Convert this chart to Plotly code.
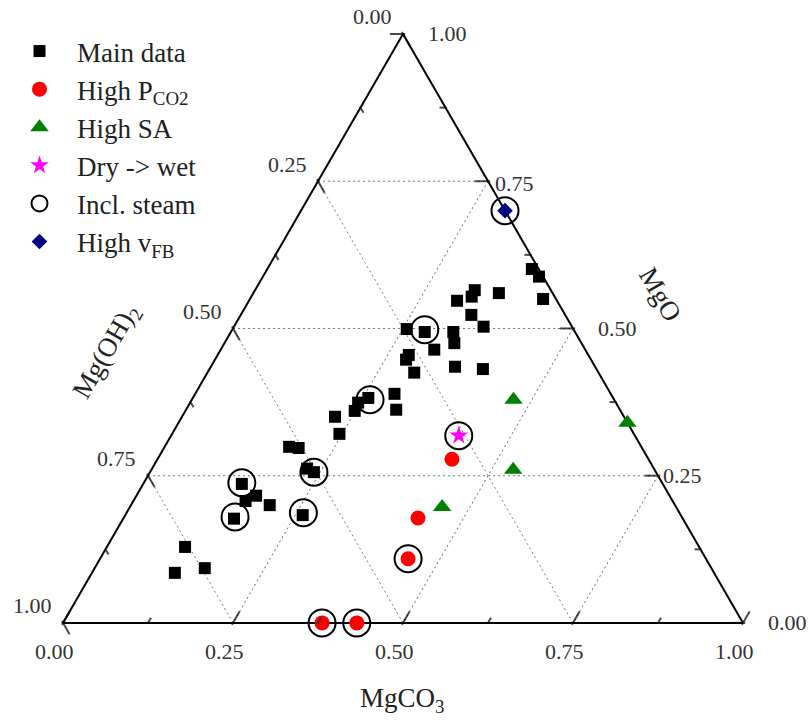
import math
import plotly.graph_objects as go

# ---------------- data: fractions (MgO, Mg(OH)2, MgCO3) ----------------
main_mgo = [0.085, 0.129, 0.093, 0.236, 0.177, 0.207, 0.216, 0.200, 0.299, 0.297,
            0.262, 0.256, 0.183, 0.350, 0.321, 0.360, 0.374, 0.382, 0.389, 0.362,
            0.499, 0.494, 0.464, 0.455, 0.447, 0.425, 0.494, 0.475, 0.435, 0.547,
            0.565, 0.554, 0.560, 0.601, 0.588, 0.550, 0.523, 0.503, 0.431]
main_mgoh2 = [0.793, 0.756, 0.745, 0.619, 0.660, 0.628, 0.608, 0.596, 0.518, 0.505,
              0.510, 0.503, 0.556, 0.425, 0.433, 0.391, 0.379, 0.360, 0.318, 0.329,
              0.245, 0.221, 0.222, 0.264, 0.272, 0.271, 0.179, 0.187, 0.206, 0.147,
              0.112, 0.122, 0.079, 0.010, 0.006, 0.019, 0.138, 0.130, 0.167]
main_mgco3 = [0.122, 0.115, 0.162, 0.145, 0.163, 0.165, 0.176, 0.204, 0.183, 0.198,
              0.228, 0.241, 0.261, 0.225, 0.246, 0.249, 0.247, 0.258, 0.293, 0.309,
              0.256, 0.285, 0.314, 0.281, 0.281, 0.304, 0.327, 0.338, 0.359, 0.306,
              0.323, 0.324, 0.361, 0.389, 0.406, 0.431, 0.339, 0.367, 0.402]

pco2_mgo = [0.278, 0.178, 0.109, 0.000, 0.000]
pco2_mgoh2 = [0.289, 0.389, 0.438, 0.619, 0.568]
pco2_mgco3 = [0.433, 0.433, 0.453, 0.381, 0.432]

sa_mgo = [0.379, 0.260, 0.197, 0.340]
sa_mgoh2 = [0.148, 0.208, 0.344, 0.000]
sa_mgco3 = [0.473, 0.532, 0.459, 0.660]

dry_mgo = [0.318]
dry_mgoh2 = [0.259]
dry_mgco3 = [0.423]

steam_mgo = [0.238, 0.180, 0.256, 0.187, 0.379, 0.498, 0.318, 0.700, 0.109, 0.000, 0.000]
steam_mgoh2 = [0.618, 0.657, 0.503, 0.553, 0.359, 0.219, 0.259, 0.000, 0.438, 0.619, 0.568]
steam_mgco3 = [0.144, 0.163, 0.241, 0.260, 0.262, 0.283, 0.423, 0.300, 0.453, 0.381, 0.432]

vfb_mgo = [0.700]
vfb_mgoh2 = [0.000]
vfb_mgco3 = [0.300]

tick_values = [0.0, 0.125, 0.25, 0.375, 0.5, 0.625, 0.75, 0.875, 1.0]
major_values = [0.0, 0.25, 0.5, 0.75, 1.0]
major_labels = ["0.00", "0.25", "0.50", "0.75", "1.00"]

# ---------------- geometry / style ----------------
FIG_W, FIG_H = 812, 721
TRI_LEFT, TRI_TOP = 63, 34          # triangle box, px
SIDE = 680.0
TRI_H = SIDE * math.sqrt(3) / 2
SERIF = "Liberation Serif, Times New Roman, serif"
MAJOR_LEN, MINOR_LEN = 11, 5
TXT = "#222222"


def tern_px(a, b, c):
    """pixel position of a ternary point (used only for axis decorations)."""
    s = a + b + c
    a, c = a / s, c / s
    return TRI_LEFT + SIDE * (c + a / 2), TRI_TOP + TRI_H * (1 - a)


def paper(x, y):
    return x / FIG_W, 1 - y / FIG_H


fig = go.Figure()

# ---- data traces ----
common = dict(mode="markers", cliponaxis=False)
fig.add_trace(go.Scatterternary(
    a=main_mgo, b=main_mgoh2, c=main_mgco3, name="Main data",
    marker=dict(symbol="square", size=12, color="black"), **common))
fig.add_trace(go.Scatterternary(
    a=pco2_mgo, b=pco2_mgoh2, c=pco2_mgco3, name="High P<sub>CO2</sub>",
    marker=dict(symbol="circle", size=15, color="#ff0000"), **common))
fig.add_trace(go.Scatterternary(
    a=sa_mgo, b=sa_mgoh2, c=sa_mgco3, name="High SA",
    marker=dict(symbol="triangle-up", size=16, color="#008000"), **common))
fig.add_trace(go.Scatterternary(
    a=dry_mgo, b=dry_mgoh2, c=dry_mgco3, name="Dry -> wet",
    marker=dict(symbol="star", size=14, color="#ff00ff"), **common))
fig.add_trace(go.Scatterternary(
    a=steam_mgo, b=steam_mgoh2, c=steam_mgco3, name="Incl. steam",
    marker=dict(symbol="circle-open", size=27, color="black", line=dict(width=2, color="black")),
    **common))
fig.add_trace(go.Scatterternary(
    a=vfb_mgo, b=vfb_mgoh2, c=vfb_mgco3, name="High v<sub>FB</sub>",
    marker=dict(symbol="diamond", size=12, color="#000080"), **common))

# ---- tick marks: short grid-line extensions, anchored on the edges ----
for edge in ("left", "bottom", "right"):
    A, B, C, S, SO = [], [], [], [], []
    for v in tick_values:
        is_major = any(abs(v - m) < 1e-9 for m in major_values)
        ln = MAJOR_LEN if is_major else MINOR_LEN
        if edge == "left":
            a, b, c = 1 - v, v, 0.0
        elif edge == "bottom":
            a, b, c = 0.0, 1 - v, v
        else:
            a, b, c = v, 0.0, 1 - v
        A.append(a); B.append(b); C.append(c); S.append(ln); SO.append(ln / 2)
    ang = {"left": -30, "bottom": -150, "right": 90}[edge]
    fig.add_trace(go.Scatterternary(
        a=A, b=B, c=C, mode="markers", showlegend=False, hoverinfo="skip", cliponaxis=False,
        marker=dict(symbol="line-ns", size=S, angle=ang, standoff=SO, color="black",
                    line=dict(width=2, color="black"))))

# ---- tick labels and axis titles (annotations) ----
annotations = []
left_off = (-31, -17)
bottom_off = (-9, 29)
right_off = {0.0: (44, 0), 0.25: (24, 0), 0.5: (44, 0), 0.75: (26, 2), 1.0: (44, 0)}
for v, lab in zip(major_values, major_labels):
    for edge in ("left", "bottom", "right"):
        if edge == "left":
            x, y = tern_px(1 - v, v, 0.0)
            dx, dy = left_off
        elif edge == "bottom":
            x, y = tern_px(0.0, 1 - v, v)
            dx, dy = bottom_off
        else:
            x, y = tern_px(v, 0.0, 1 - v)
            dx, dy = right_off[v]
        px_, py_ = paper(x + dx, y + dy)
        annotations.append(dict(
            text=lab, x=px_, y=py_, xref="paper", yref="paper", showarrow=False,
            xanchor="center", yanchor="middle",
            font=dict(family=SERIF, size=22, color="#333333")))

titles = [("MgCO<sub>3</sub>", 402, 700, 0), ("Mg(OH)<sub>2</sub>", 107, 352, -60), ("MgO", 660, 294, 60)]
for txt, xp, yp, ang in titles:
    px_, py_ = paper(xp, yp)
    annotations.append(dict(
        text=txt, x=px_, y=py_, xref="paper", yref="paper", showarrow=False,
        xanchor="center", yanchor="middle", textangle=ang,
        font=dict(family=SERIF, size=27, color=TXT)))

axis_style = dict(
    showticklabels=False, ticks="", showline=True, linecolor="black", linewidth=2,
    showgrid=True, gridcolor="#7a7a7a", gridwidth=1.2, griddash="2px,3px",
    tick0=0, dtick=0.25, min=0, title=dict(text=""), layer="below traces")

dom_x0, dom_y1 = paper(TRI_LEFT, TRI_TOP)
dom_x1, dom_y0 = paper(TRI_LEFT + SIDE, TRI_TOP + TRI_H)

leg_x, leg_y = paper(2, 27)
fig.update_layout(
    width=FIG_W, height=FIG_H,
    margin=dict(l=0, r=0, t=0, b=0),
    paper_bgcolor="white", plot_bgcolor="white",
    ternary=dict(
        sum=1, bgcolor="white",
        domain=dict(x=[dom_x0, dom_x1], y=[dom_y0, dom_y1]),
        aaxis=axis_style, baxis=axis_style, caxis=axis_style),
    legend=dict(x=leg_x, y=leg_y, xanchor="left", yanchor="top",
                font=dict(family=SERIF, size=27, color=TXT),
                bgcolor="rgba(0,0,0,0)", itemsizing="trace", itemwidth=65),
    annotations=annotations,
    showlegend=True,
)

# remove the default 8px page margin so the figure sits at the window's top-left corner
fig.write_html("out.html", config={"displayModeBar": False},
               post_script="document.body.style.margin='0px';")
